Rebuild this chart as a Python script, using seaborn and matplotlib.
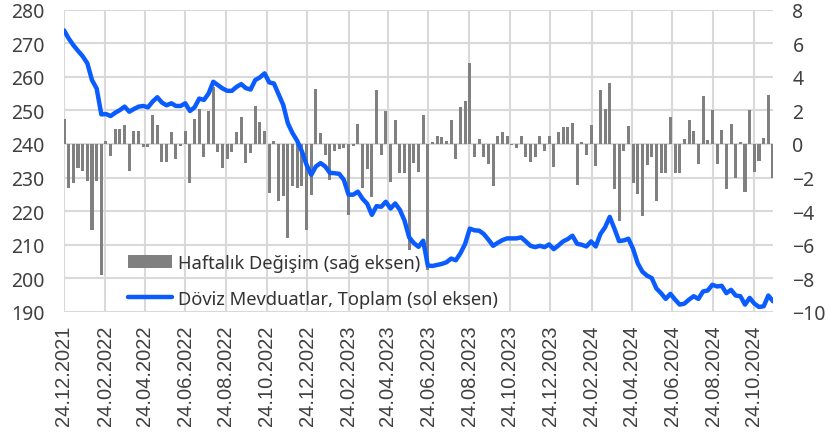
import numpy as np
import pandas as pd
import matplotlib
matplotlib.use("Agg")
import matplotlib.pyplot as plt
import matplotlib.dates as mdates
from matplotlib.patches import Patch
from matplotlib.lines import Line2D
import seaborn as sns

# weekly data, starting 24.12.2021
start_date = "2021-12-24"

weekly_change = [
    1.5, -2.6, -2.3, -1.45, -1.6, -2.2, -5.1, -2.2, -7.8, 0.2,
    -0.7, 0.9, 0.9, 1.15, -1.6, 0.8, 0.8, -0.2, -0.2, 1.7,
    1.15, -1.1, -1.1, 0.7, -0.9, -0.15, 0.8, -2.3, 1.5, 2.05,
    -0.8, 1.95, 3.4, -0.45, -1.45, -0.9, -0.45, 0.7, 1.6, -1.15,
    -0.55, 2.25, 1.3, 0.75, -2.9, 0.2, -3.4, -3.1, -5.6, -2.5,
    -2.6, -2.5, -5.1, -3.05, 3.25, 0.65, -0.65, -2.15, -0.4, -0.3,
    -0.25, -4.2, -0.15, 1.2, -2.6, -1.5, -3.15, 3.2, -0.65, 1.95,
    -2.25, 1.4, -1.7, -1.75, -6.3, -1.15, -1.65, 1.75, -7.5, 0.1,
    0.45, 0.4, 0.15, 1.45, -0.9, 2.2, 2.55, 4.8, -0.8, 0.3,
    -0.75, -1.2, -2.5, 0.5, 0.7, 0.5, -0.05, -0.25, 0.45, -0.75,
    -1.1, -0.8, 0.5, -0.4, 0.45, -1.4, 0.7, 1.0, 1.0, 1.25,
    -2.45, 0.1, -0.65, 1.15, -1.3, 3.2, 2.05, 3.6, -2.7, -4.6,
    -0.4, 1.05, -2.3, -3.0, -4.3, -1.25, -0.8, -3.4, -1.7, -1.75,
    1.6, -1.7, -1.75, 0.3, 1.4, 0.77, -1.2, 2.85, 0.25, 2.0,
    -1.2, 0.85, -2.7, 1.2, -2.05, 0.1, -2.85, 2.0, -1.65, -1.0,
    0.35, 2.9, -2.05,
]

fx_deposits = [
    273.8, 271.4, 269.4, 267.7, 266.1, 264.0, 259.0, 256.5, 248.8, 248.9,
    248.3, 249.3, 250.1, 251.1, 249.6, 250.4, 251.1, 251.3, 250.9, 252.6,
    253.9, 252.3, 251.5, 252.1, 251.3, 251.3, 252.1, 249.8, 250.9, 253.5,
    253.1, 255.0, 258.5, 257.5, 256.5, 255.8, 255.8, 257.0, 257.8, 256.6,
    256.2, 259.0, 259.8, 261.0, 258.3, 258.0, 254.8, 251.6, 246.1, 243.2,
    240.9, 237.8, 233.8, 230.8, 233.3, 234.3, 233.3, 231.4, 231.3, 231.1,
    229.3, 224.9, 224.9, 225.8, 223.7, 222.2, 218.9, 221.5, 221.3, 222.8,
    220.8, 222.3, 220.4, 217.2, 212.2, 210.5, 209.4, 211.2, 203.8, 203.7,
    204.0, 204.3, 204.8, 205.9, 205.4, 207.5, 210.3, 214.8, 214.3, 214.2,
    213.2, 211.5, 209.7, 210.6, 211.4, 211.9, 211.9, 211.9, 212.2, 211.0,
    209.7, 209.3, 209.7, 209.3, 210.1, 208.7, 209.8, 211.0, 211.7, 212.7,
    210.3, 210.0, 209.5, 211.0, 209.5, 213.2, 215.2, 218.3, 214.8, 211.1,
    211.3, 211.8, 208.8, 204.5, 202.0, 200.8, 200.1, 197.0, 195.6, 193.9,
    195.4, 193.7, 192.2, 192.5, 193.7, 194.7, 193.9, 196.1, 196.4, 198.1,
    197.6, 197.8, 195.6, 196.6, 194.9, 194.7, 192.2, 194.2, 192.5, 191.5,
    191.7, 194.9, 193.2,
]

tick_labels = [
    "24.12.2021", "24.02.2022", "24.04.2022", "24.06.2022", "24.08.2022",
    "24.10.2022", "24.12.2022", "24.02.2023", "24.04.2023", "24.06.2023",
    "24.08.2023", "24.10.2023", "24.12.2023", "24.02.2024", "24.04.2024",
    "24.06.2024", "24.08.2024", "24.10.2024",
]

bar_label = "Haftalık Değişim (sağ eksen)"
line_label = "Döviz Mevduatlar, Toplam (sol eksen)"

dates = pd.date_range(start_date, periods=len(fx_deposits), freq="7D")
x = mdates.date2num(dates)
tick_pos = mdates.date2num(pd.to_datetime(tick_labels, format="%d.%m.%Y"))

sns.set_style("white")
plt.rcParams["font.family"] = ["Noto Sans", "DejaVu Sans"]

text_color = "#404040"
grid_color = "#d9d9d9"
bar_color = "#808080"
line_color = "#0a5cff"

fig = plt.figure(figsize=(8.26, 4.35), dpi=100)
ax = fig.add_axes([64 / 826, 1 - 313 / 435, (773 - 64) / 826, (313 - 10.5) / 435])
ax2 = ax.twinx()

# bars on the right axis, drawn below the line
sns.barplot(x=x, y=weekly_change, native_scale=True, ax=ax2, color=bar_color,
            saturation=1, width=0.65, errorbar=None, linewidth=0)
sns.lineplot(x=x, y=fx_deposits, ax=ax, color=line_color, linewidth=3.2, sort=False)

ax.set_zorder(2)
ax2.set_zorder(1)
ax.patch.set_visible(False)

ax.set_xlim(x[0], x[-1])
ax.set_ylim(190, 280)
ax2.set_ylim(-10, 8)
ax.set_yticks(np.arange(190, 281, 10))
ax2.set_yticks(np.arange(-10, 9, 2))
ax.set_xticks(tick_pos)
ax.set_xticklabels(tick_labels, rotation=90, fontsize=14.5, color=text_color,
                   family="Liberation Sans")

# grid on the lower axes so it stays behind the bars
ax2.xaxis.set_visible(True)
ax2.set_xticks(tick_pos)
ax2.tick_params(axis="x", labelbottom=False, bottom=False, top=False, labeltop=False)
ax2.grid(True, axis="both", color=grid_color, linewidth=1.5)
ax.grid(False)

for a in (ax, ax2):
    for s in a.spines.values():
        s.set_visible(False)
    a.set_xlabel("")
    a.set_ylabel("")

ax.tick_params(axis="y", length=0, pad=14, labelsize=14, labelcolor=text_color)
ax2.tick_params(axis="y", length=0, pad=14, labelsize=14, labelcolor=text_color)
ax.tick_params(axis="x", length=5, width=1.2, color=grid_color, pad=4)
for lab in ax2.get_yticklabels():
    lab.set_horizontalalignment("left")

handles = [Patch(facecolor=bar_color, edgecolor="none"),
           Line2D([0], [0], color=line_color, linewidth=3.2)]
ax.legend(handles, [bar_label, line_label], loc="lower left",
          bbox_to_anchor=(0.08, -0.01), frameon=False, fontsize=13.2,
          labelcolor="#333333", handlelength=2.4, handletextpad=0.3,
          labelspacing=0.95, borderaxespad=0)

fig.savefig("out.png", dpi=100)
